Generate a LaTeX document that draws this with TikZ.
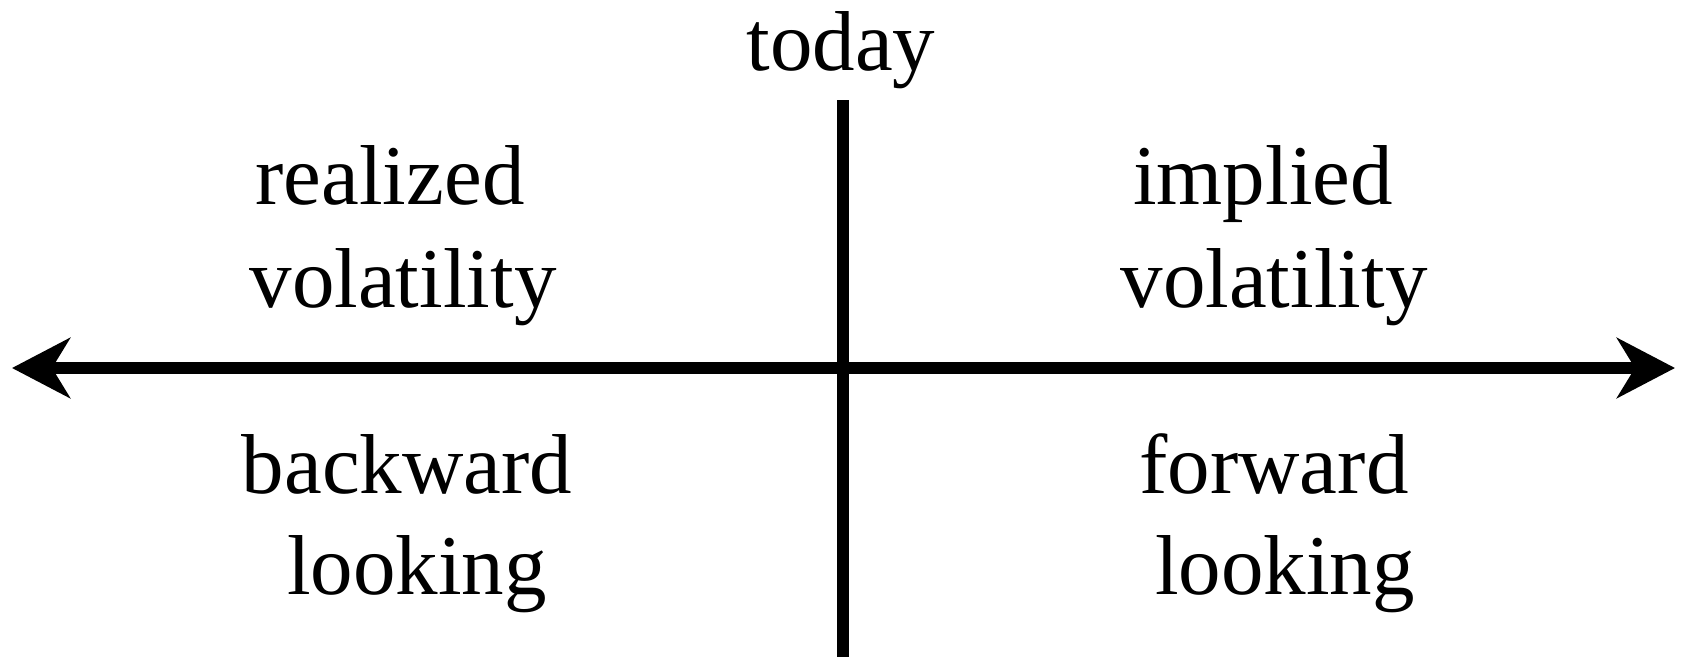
\documentclass[tikz,border=0pt]{standalone}
\usepackage{fontspec}
\setmainfont{Liberation Serif}
\usetikzlibrary{arrows.meta}
\begin{document}
\begin{tikzpicture}[x=1pt,y=-1pt,
  lbl/.style={anchor=base,inner sep=0pt,font=\fontsize{85}{100}\selectfont},
  axis/.style={line width=12pt,-{Stealth[length=58pt,width=60pt,inset=18pt]}}]
\useasboundingbox (0,0) rectangle (1700,657);
\coordinate (L) at (12,368);
\coordinate (R) at (1675,368);
\coordinate (T) at (843,100);
\coordinate (B) at (843,657);
\draw[line width=12pt] (T) -- (B);
\draw[line width=12pt,{Stealth[length=58pt,width=60pt,inset=18pt]}-{Stealth[length=58pt,width=60pt,inset=18pt]}] (L) -- (R);
\node[lbl] (today) at (841,70) {today};
\node[lbl] (real) at (390,204) {realized};
\node[lbl] (vol1) at (403,307) {volatility};
\node[lbl] (impl) at (1263,204) {implied};
\node[lbl] (vol2) at (1274,307) {volatility};
\node[lbl] (back) at (407,493) {backward};
\node[lbl] (look1) at (417,594) {looking};
\node[lbl] (forw) at (1274,493) {forward};
\node[lbl] (look2) at (1285,594) {looking};
\end{tikzpicture}
\end{document}
